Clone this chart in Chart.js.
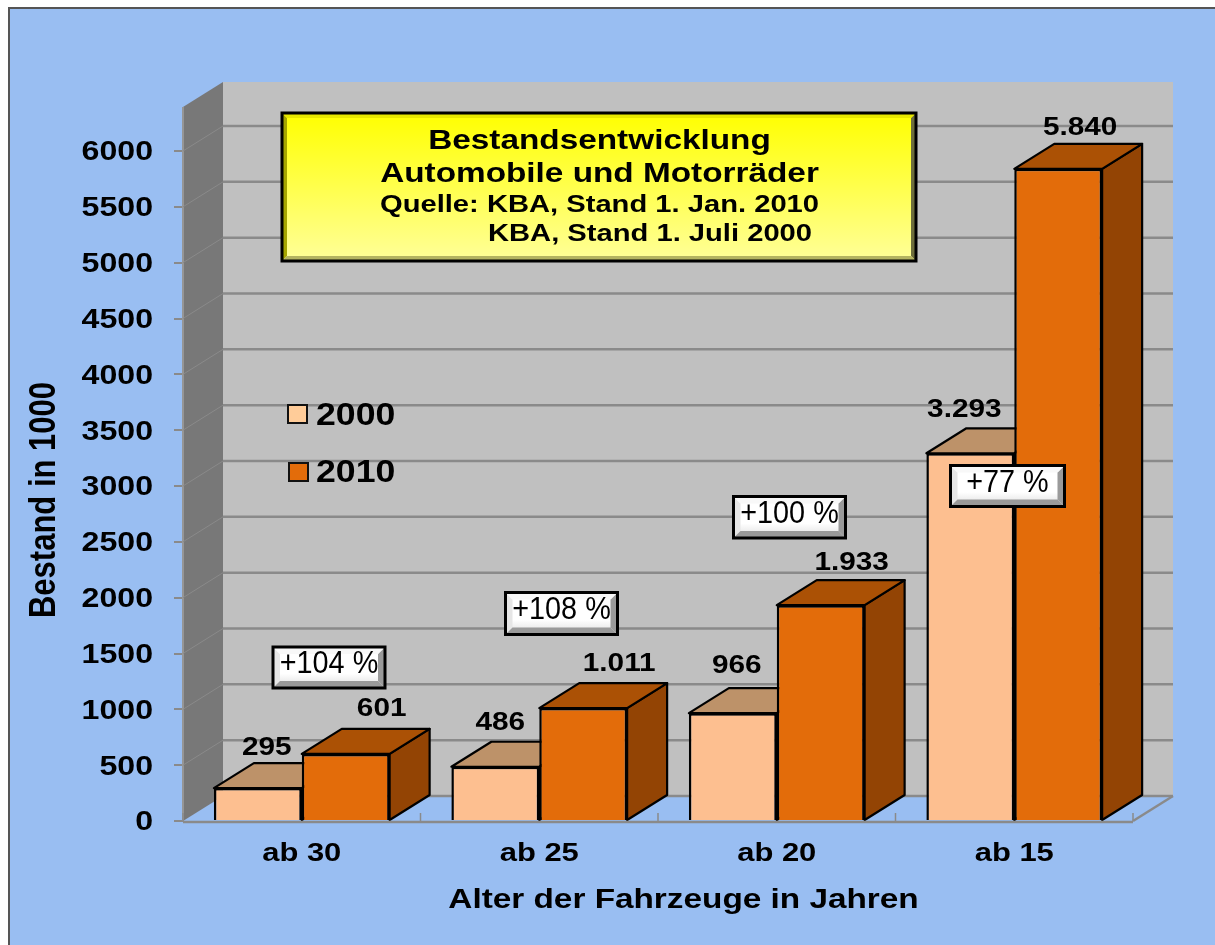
<!DOCTYPE html>
<html lang="de"><head><meta charset="utf-8">
<style>html,body{margin:0;padding:0;background:#fff}canvas{display:block}</style>
<script src="https://cdn.jsdelivr.net/npm/chart.js@4"></script>
</head><body><div style="width:1215px;height:945px"><canvas id="c"></canvas></div>
<script>
const categories = ['ab 30','ab 25','ab 20','ab 15'];
const series2000 = [295,486,966,3293];
const series2010 = [601,1011,1933,5840];
const seriesNames = ['2000','2010'];
const changeLabels = ['+104 %','+108 %','+100 %','+77 %'];
const yStep = 500, yMax = 6000, wallTop = 6394;
const xTitle = 'Alter der Fahrzeuge in Jahren', yTitle = 'Bestand in 1000';

const FONT = '"Liberation Sans", Arial, sans-serif';
const DX = 40, DY = -25;
const GRAY = '#8a8a8a';
const colors = [
  {front:'#FDBF90', top:'#BD9269', side:'#BD9269', swatch:'#FFCC99'},
  {front:'#E36C0A', top:'#AB5105', side:'#934404', swatch:'#E36C0A'}
];
const labelOffsets = [
  [[9,-40],[5,-44],[4,-47],[-6,-43]],
  [[36,-45],[36,-44],[31,-42],[22,-41]]
];
const changeBoxes = [[273,647,112,41],[505.5,592.5,112,42],[733.5,496.5,112,41.5],[950.5,465.5,114,41]];
const titleLines = [
  ['Bestandsentwicklung',599.5,141,'bold 28px'],
  ['Automobile und Motorräder',599.5,174,'bold 28px'],
  ['Quelle: KBA, Stand 1. Jan. 2010',599.5,205,'bold 24.5px'],
  ['KBA, Stand 1. Juli 2000',650,234,'bold 24.5px']
];

// The reference's lettering is about 19% wider than it is tall.
let stretch = 1.19;
const canvas = document.getElementById('c');
const rawCtx = canvas.getContext('2d');
const rawFill = rawCtx.fillText.bind(rawCtx);
rawCtx.fillText = function(s,x,y,mw){
  const m = rawCtx.getTransform();
  const px = m.a*x + m.c*y + m.e;
  rawCtx.save();
  rawCtx.setTransform(stretch*m.a, m.b, stretch*m.c, m.d, stretch*m.e + px*(1-stretch), m.f);
  if(mw===undefined) rawFill(s,x,y); else rawFill(s,x,y,mw);
  rawCtx.restore();
};

function txt(ctx,s,x,y,font,align,k){
  ctx.save();ctx.font=font+' '+FONT;ctx.fillStyle='#000';ctx.textAlign=align||'center';ctx.textBaseline='middle';
  const old=stretch; if(k) stretch=k;
  ctx.fillText(s,x,y);
  stretch=old;ctx.restore();
}
function poly(ctx,pts,fill,stroke,lw){
  ctx.beginPath();pts.forEach((p,i)=>i?ctx.lineTo(p[0],p[1]):ctx.moveTo(p[0],p[1]));ctx.closePath();
  if(fill){ctx.fillStyle=fill;ctx.fill();}
  if(stroke){ctx.strokeStyle=stroke;ctx.lineWidth=lw;ctx.lineJoin='round';ctx.stroke();}
}
function bevelBox(ctx,x,y,w,h,b,cols,face){
  const x2=x+w,y2=y+h;
  ctx.fillStyle=face;ctx.fillRect(x,y,w,h);
  poly(ctx,[[x,y],[x+b,y+b],[x+b,y2-b],[x,y2]],cols.l);
  poly(ctx,[[x2,y],[x2-b,y+b],[x2-b,y2-b],[x2,y2]],cols.r);
  poly(ctx,[[x,y],[x2,y],[x2-b,y+b],[x+b,y+b]],cols.t);
  poly(ctx,[[x,y2],[x2,y2],[x2-b,y2-b],[x+b,y2-b]],cols.b);
  ctx.strokeStyle='#000';ctx.lineWidth=3;ctx.strokeRect(x,y,w,h);
}
function faces(ctx,meta,c){
  meta.data.forEach(b=>{
    const l=b.x-b.width/2,r=b.x+b.width/2,t=b.y,bt=b.base;
    poly(ctx,[[r,t],[r+DX,t+DY],[r+DX,bt+DY],[r,bt]],c.side,'#000',2.2);
    poly(ctx,[[l,t],[l+DX,t+DY],[r+DX,t+DY],[r,t]],c.top,'#000',2.2);
  });
}

const scene = {
  id:'scene',
  beforeDraw(chart){
    const {ctx} = chart;
    ctx.save();
    ctx.fillStyle='#99BEF2';ctx.fillRect(9,8,1206,937);
    ctx.strokeStyle='#555';ctx.lineWidth=2;
    ctx.beginPath();ctx.moveTo(9,945);ctx.lineTo(9,8);ctx.lineTo(1215,8);ctx.stroke();
    ctx.restore();
  },
  beforeDatasetsDraw(chart){
    const {ctx,chartArea:a,scales:{y}} = chart;
    const top=y.getPixelForValue(wallTop);
    ctx.save();
    ctx.fillStyle='#C0C0C0';ctx.fillRect(a.left+DX,top+DY,a.right-a.left,a.bottom-top);
    poly(ctx,[[a.left,top],[a.left+DX,top+DY],[a.left+DX,a.bottom+DY],[a.left,a.bottom]],'#787878');
    ctx.fillStyle='#969696';ctx.fillRect(a.left-1,top,2,a.bottom-top);
    y.ticks.forEach(t=>{
      const py=y.getPixelForValue(t.value);
      ctx.strokeStyle=GRAY;ctx.lineWidth=2.5;
      ctx.beginPath();ctx.moveTo(a.left+DX,py+DY);ctx.lineTo(a.right+DX,py+DY);ctx.stroke();
      if(t.value>0){
        ctx.strokeStyle='#8a8a8a';ctx.lineWidth=1;
        ctx.beginPath();ctx.moveTo(a.left,py);ctx.lineTo(a.left+DX,py+DY);ctx.stroke();
      }
    });
    ctx.strokeStyle=GRAY;ctx.lineWidth=2.5;
    ctx.beginPath();ctx.moveTo(a.right,a.bottom);ctx.lineTo(a.right+DX,a.bottom+DY);ctx.stroke();
    ctx.lineWidth=1.5;
    for(let i=0;i<=categories.length;i++){
      const px=a.left+(a.right-a.left)*i/categories.length;
      ctx.beginPath();ctx.moveTo(px,a.bottom);ctx.lineTo(px,a.bottom-8);ctx.stroke();
    }
    // 2000 depth faces first, then 2010; fronts go on top
    faces(ctx,chart.getDatasetMeta(0),colors[0]);
    faces(ctx,chart.getDatasetMeta(1),colors[1]);
    ctx.restore();
  },
  afterDatasetsDraw(chart){
    const {ctx,chartArea:a} = chart;
    ctx.save();
    ctx.strokeStyle=GRAY;ctx.lineWidth=2.5;
    ctx.beginPath();ctx.moveTo(a.left,a.bottom+1);ctx.lineTo(a.right,a.bottom+1);ctx.stroke();
    ctx.restore();
    chart.data.datasets.forEach((ds,i)=>{
      chart.getDatasetMeta(i).data.forEach((b,j)=>{
        const o=labelOffsets[i][j];
        txt(ctx,ds.data[j].toLocaleString('de-DE'),b.x+o[0],b.y+o[1],'bold 25px');
      });
    });
    // axis titles
    ctx.save();ctx.translate(45,500);ctx.rotate(-Math.PI/2);
    txt(ctx,yTitle,0,0,'bold 31px');
    ctx.restore();
    txt(ctx,xTitle,683.5,900,'bold 28px');
    // title box
    const gr=ctx.createLinearGradient(0,113,0,261);gr.addColorStop(0,'#FFFF00');gr.addColorStop(1,'#FFFF99');
    bevelBox(ctx,282,113,634,148,5,{l:'#A5A500',r:'#6E6E3C',t:'#E8E800',b:'#B3B360'},gr);
    titleLines.forEach(l=>txt(ctx,l[0],l[1],l[2],l[3]));
    // legend
    chart.data.datasets.forEach((ds,i)=>{
      const yy=[405,463][i],xx=[288,289][i];
      ctx.save();ctx.fillStyle=colors[i].swatch;ctx.fillRect(xx,yy,19,18);
      ctx.strokeStyle='#111';ctx.lineWidth=2;ctx.strokeRect(xx,yy,19,18);ctx.restore();
      txt(ctx,ds.label,316,[416,473][i],'bold 31px','left',1.15);
    });
    // change boxes
    changeLabels.forEach((s,i)=>{
      const [bx,by,bw,bh]=changeBoxes[i];
      const gf=ctx.createLinearGradient(0,by,0,by+bh);gf.addColorStop(0,'#fff');gf.addColorStop(.65,'#fff');gf.addColorStop(1,'#ddd');
      bevelBox(ctx,bx,by,bw,bh,7,{l:'#e6e6e6',r:'#9a9a9a',t:'#f8f8f8',b:'#9a9a9a'},gf);
      txt(ctx,s,bx+bw/2,by+bh/2-3,'32px','center',0.9);
    });
  }
};

new Chart(canvas,{
  type:'bar',
  data:{labels:categories,datasets:[
    {label:seriesNames[0],data:series2000,backgroundColor:colors[0].front,borderColor:'#000',borderWidth:2.5},
    {label:seriesNames[1],data:series2010,backgroundColor:colors[1].front,borderColor:'#000',borderWidth:2.5}
  ]},
  options:{
    responsive:true,maintainAspectRatio:false,animation:false,
    layout:{padding:{left:0,right:82,top:151,bottom:0}},
    plugins:{legend:{display:false},tooltip:{enabled:false},title:{display:false}},
    scales:{
      x:{
        afterFit(s){s.height=124;},
        grid:{display:false},border:{display:false},
        ticks:{color:'#000',font:{family:FONT,size:26,weight:'bold'},padding:9}
      },
      y:{
        min:0,max:yMax,
        afterFit(s){s.width=183;},
        grid:{drawOnChartArea:false,color:GRAY,lineWidth:2,tickLength:9},
        border:{display:false},
        ticks:{stepSize:yStep,autoSkip:false,labelOffset:2,color:'#000',font:{family:FONT,size:27,weight:'bold'},padding:21,callback:v=>String(v)}
      }
    },
    datasets:{bar:{categoryPercentage:0.74,barPercentage:1}}
  },
  plugins:[scene]
});
</script></body></html>
